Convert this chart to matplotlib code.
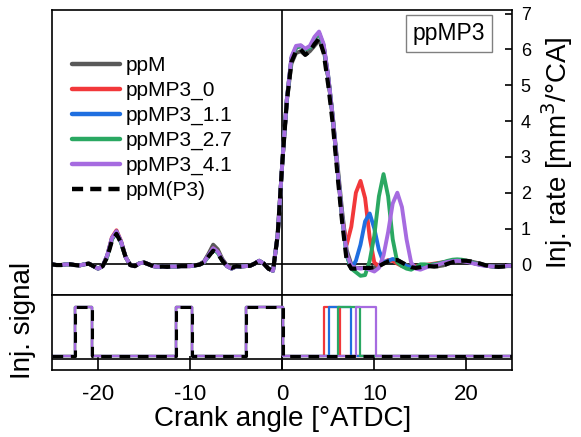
import numpy as np
import matplotlib.pyplot as plt

plt.rcParams['font.family'] = ['Liberation Sans', 'DejaVu Sans']
plt.rcParams['axes.unicode_minus'] = False

# crank angle grid [deg ATDC], 0.5 deg step
crank = np.arange(-25, 25.01, 0.5)

# injection rate [mm3/deg CA]
ppm = [0.00, -0.02, -0.02, 0.00, 0.00, -0.02, -0.03, 0.00, 0.02, -0.05,
       -0.12, -0.05, 0.22, 0.70, 0.90, 0.62, 0.20, -0.02, -0.05, 0.03,
       0.05, 0.00, -0.05, -0.07, -0.06, -0.07, -0.06, -0.06, -0.05, -0.05,
       -0.05, -0.03, 0.00, 0.08, 0.30, 0.55, 0.42, 0.15, -0.03, -0.10,
       -0.05, -0.06, -0.05, -0.04, 0.02, 0.10, 0.02, -0.12, -0.18, 0.80,
       2.80, 4.55, 5.60, 5.90, 5.95, 5.85, 5.95, 6.10, 6.25, 6.00,
       5.20, 4.10, 2.80, 1.50, 0.40, 0.00, -0.10, -0.10, -0.10, -0.10,
       -0.08, -0.05, 0.02, 0.08, 0.12, 0.12, 0.05, -0.02, -0.08, -0.10,
       -0.08, -0.05, -0.05, -0.06, -0.05, -0.03, 0.02, 0.06, 0.09, 0.10,
       0.10, 0.08, 0.05, 0.02, -0.02, -0.05, -0.06, -0.07, -0.06, -0.05,
       -0.05]
ppmp3_0 = [0.00, -0.02, -0.02, 0.00, 0.00, -0.02, -0.03, 0.00, 0.02, -0.05,
           -0.12, -0.05, 0.25, 0.75, 0.95, 0.65, 0.20, -0.02, -0.05, 0.03,
           0.05, 0.00, -0.05, -0.07, -0.06, -0.07, -0.06, -0.06, -0.05, -0.05,
           -0.05, -0.03, -0.01, 0.06, 0.25, 0.45, 0.35, 0.12, -0.05, -0.12,
           -0.06, -0.06, -0.05, -0.04, 0.02, 0.10, 0.02, -0.12, -0.18, 0.80,
           2.80, 4.60, 5.75, 6.05, 6.10, 6.00, 6.05, 6.30, 6.45, 6.10,
           5.20, 4.05, 2.65, 1.30, 0.55, 1.05, 2.00, 2.33, 1.85, 0.75,
           0.05, -0.05, 0.05, 0.12, 0.10, 0.02, -0.05, -0.08, -0.08, -0.05,
           -0.03, -0.02, 0.00, 0.02, 0.04, 0.06, 0.08, 0.10, 0.10, 0.10,
           0.08, 0.05, 0.02, 0.00, -0.03, -0.05, -0.06, -0.06, -0.05, -0.04,
           -0.03]
ppmp3_1 = [0.00, -0.02, -0.02, 0.00, 0.00, -0.02, -0.03, 0.00, 0.02, -0.05,
           -0.12, -0.05, 0.25, 0.72, 0.92, 0.63, 0.20, -0.02, -0.05, 0.03,
           0.05, 0.00, -0.05, -0.07, -0.06, -0.07, -0.06, -0.06, -0.05, -0.05,
           -0.05, -0.03, -0.01, 0.06, 0.25, 0.44, 0.34, 0.12, -0.05, -0.12,
           -0.06, -0.06, -0.05, -0.04, 0.02, 0.10, 0.02, -0.12, -0.18, 0.80,
           2.80, 4.60, 5.75, 6.05, 6.10, 6.00, 6.05, 6.30, 6.45, 6.10,
           5.20, 4.05, 2.65, 1.30, 0.25, -0.12, 0.10, 0.55, 1.20, 1.42,
           1.00, 0.40, 0.05, 0.10, 0.15, 0.12, 0.03, -0.05, -0.08, -0.08,
           -0.05, -0.03, -0.02, 0.00, 0.02, 0.05, 0.08, 0.10, 0.11, 0.10,
           0.08, 0.05, 0.02, -0.01, -0.03, -0.05, -0.06, -0.06, -0.05, -0.04,
           -0.03]
ppmp3_2 = [0.00, -0.02, -0.02, 0.00, 0.00, -0.02, -0.03, 0.00, 0.02, -0.05,
           -0.12, -0.05, 0.22, 0.70, 0.88, 0.60, 0.20, -0.02, -0.05, 0.03,
           0.05, 0.00, -0.05, -0.07, -0.06, -0.07, -0.06, -0.06, -0.05, -0.05,
           -0.05, -0.03, -0.01, 0.05, 0.22, 0.42, 0.32, 0.10, -0.05, -0.12,
           -0.06, -0.06, -0.05, -0.04, 0.02, 0.10, 0.02, -0.12, -0.18, 0.80,
           2.80, 4.60, 5.75, 6.05, 6.10, 6.00, 6.05, 6.30, 6.45, 6.10,
           5.25, 4.10, 2.70, 1.35, 0.25, -0.12, -0.22, -0.32, -0.30, 0.10,
           0.80, 1.90, 2.52, 1.90, 0.70, 0.05, -0.05, -0.12, -0.15, -0.08,
           0.00, 0.00, -0.02, 0.00, 0.03, 0.06, 0.10, 0.13, 0.14, 0.13,
           0.10, 0.06, 0.02, -0.01, -0.03, -0.05, -0.06, -0.06, -0.05, -0.04,
           -0.03]
ppmp3_4 = [0.00, -0.02, -0.02, 0.00, 0.00, -0.02, -0.03, 0.00, 0.02, -0.05,
           -0.12, -0.05, 0.25, 0.73, 0.92, 0.63, 0.20, -0.02, -0.05, 0.03,
           0.05, 0.00, -0.05, -0.07, -0.06, -0.07, -0.06, -0.06, -0.05, -0.05,
           -0.05, -0.03, -0.01, 0.06, 0.25, 0.45, 0.35, 0.12, -0.05, -0.12,
           -0.06, -0.06, -0.05, -0.04, 0.02, 0.10, 0.02, -0.12, -0.18, 0.80,
           2.80, 4.60, 5.80, 6.10, 6.12, 6.02, 6.10, 6.35, 6.50, 6.15,
           5.25, 4.10, 2.70, 1.35, 0.30, -0.05, -0.10, -0.12, -0.10, -0.15,
           -0.20, -0.10, 0.25, 0.90, 1.70, 2.00, 1.60, 0.70, 0.05, -0.12,
           -0.15, -0.10, -0.05, -0.03, 0.00, 0.04, 0.07, 0.09, 0.10, 0.09,
           0.07, 0.04, 0.01, -0.02, -0.04, -0.05, -0.06, -0.06, -0.05, -0.04,
           -0.04]
ppm_p3 = [0.00, -0.02, -0.02, 0.00, 0.00, -0.02, -0.03, 0.00, 0.02, -0.05,
          -0.12, -0.05, 0.20, 0.65, 0.85, 0.60, 0.20, -0.02, -0.05, 0.03,
          0.05, 0.00, -0.05, -0.07, -0.06, -0.07, -0.06, -0.06, -0.05, -0.05,
          -0.05, -0.03, -0.01, 0.05, 0.22, 0.38, 0.30, 0.10, -0.05, -0.10,
          -0.05, -0.06, -0.05, -0.04, 0.02, 0.10, 0.02, -0.12, -0.18, 0.80,
          2.80, 4.55, 5.65, 5.95, 6.00, 5.85, 5.95, 6.15, 6.30, 5.90,
          5.00, 3.90, 2.50, 1.20, 0.10, -0.12, -0.12, -0.10, -0.10, -0.10,
          -0.08, -0.05, 0.02, 0.08, 0.12, 0.12, 0.05, -0.02, -0.08, -0.10,
          -0.08, -0.05, -0.05, -0.06, -0.05, -0.03, 0.02, 0.06, 0.09, 0.10,
          0.10, 0.08, 0.05, 0.02, -0.02, -0.05, -0.06, -0.07, -0.06, -0.05,
          -0.05]

labels = ['ppM', 'ppMP3_0', 'ppMP3_1.1', 'ppMP3_2.7', 'ppMP3_4.1', 'ppM(P3)']
colors = ['#595959', '#f2383a', '#1f6fe0', '#2aa862', '#a66be0', 'black']
rates = [ppm, ppmp3_0, ppmp3_1, ppmp3_2, ppmp3_4, ppm_p3]

# injection signal: pilots + main shared, post differs [deg ATDC]
base_on = [-22.5, -11.5, -3.9]
base_off = [-20.7, -9.8, 0.07]
post_on = [None, 4.5, 5.1, 6.1, 8.0, None]
post_off = [None, 6.25, 7.5, 8.5, 10.2, None]


def step_signal(on, off):
    xs, ys = [-25], [0]
    for a, b in zip(on, off):
        xs += [a, a, b, b]
        ys += [0, 1, 1, 0]
    xs.append(25)
    ys.append(0)
    return xs, ys


fig = plt.figure(figsize=(5.81, 4.37), dpi=100)
ax = fig.add_axes([0.0895, 0.3238, 0.7925, 0.6532])
ax2 = fig.add_axes([0.0895, 0.1529, 0.7925, 0.1709])

for i in range(6):
    if labels[i] == 'ppM(P3)':
        ax.plot(crank, rates[i], color=colors[i], lw=3, dashes=(2.5, 1.6),
                label=labels[i], zorder=5)
    else:
        ax.plot(crank, rates[i], color=colors[i], lw=2.8,
                label=labels[i], solid_capstyle='round')

ax.axhline(0, color='black', lw=1.2, zorder=0)
ax.axvline(0, color='black', lw=1.2, zorder=0)
ax.set_xlim(-25, 25)
ax.set_ylim(-0.87, 7.1)
ax.set_xticks([])
ax.yaxis.tick_right()
ax.yaxis.set_label_position('right')
ax.set_yticks(range(0, 8))
ax.tick_params(axis='y', direction='in', length=5, width=1.2,
               labelsize=13, pad=6)
ax.set_ylabel('Inj. rate [mm$^3$/°CA]', fontsize=20, labelpad=6)
for s in ax.spines.values():
    s.set_linewidth(1.2)

leg = ax.legend(loc='upper left', bbox_to_anchor=(0.02, 0.875), frameon=False,
                fontsize=15, handlelength=2.3, handletextpad=0.3,
                labelspacing=0.28, borderpad=0)
for h in leg.get_lines():
    h.set_linewidth(3.2)

ax.text(0.862, 0.917, 'ppMP3', transform=ax.transAxes, fontsize=16.5,
        ha='center', va='center',
        bbox=dict(boxstyle='square,pad=0.3', fc='white', ec='#808080', lw=1))

for i in range(6):
    on = list(base_on)
    off = list(base_off)
    if post_on[i] is not None:
        on.append(post_on[i])
        off.append(post_off[i])
    xs, ys = step_signal(on, off)
    if labels[i] == 'ppM(P3)':
        ax2.plot(xs, ys, color='black', lw=2.2, dashes=(3.5, 2.5), zorder=5)
    else:
        ax2.plot(xs, ys, color=colors[i], lw=1.6)

ax2.axvline(0, color='black', lw=1.2, zorder=0)
ax2.axhline(-0.06, color='black', lw=1.2, zorder=0)
ax2.set_xlim(-25, 25)
ax2.set_ylim(-0.28, 1.23)
ax2.set_yticks([])
ax2.set_xticks([-20, -10, 0, 10, 20])
ax2.tick_params(axis='x', direction='in', length=10, width=1.2,
                labelsize=16, pad=10)
ax2.set_xlabel('Crank angle [°ATDC]', fontsize=20, labelpad=1)
ax2.set_ylabel('Inj. signal', fontsize=20)
ax2.yaxis.set_label_coords(-0.035, 0.67)
for s in ax2.spines.values():
    s.set_linewidth(1.2)

fig.savefig('out.png', dpi=100)
